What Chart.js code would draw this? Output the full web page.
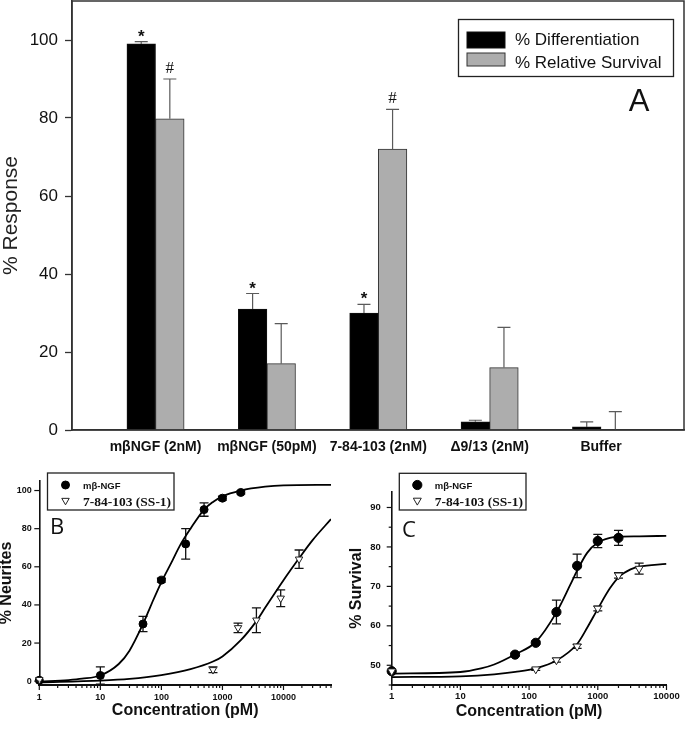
<!DOCTYPE html>
<html>
<head>
<meta charset="utf-8">
<title>NGF response panels</title>
<script src="https://cdn.jsdelivr.net/npm/chart.js@4.4.1/dist/chart.umd.min.js"></script>
<style>
  html, body { margin: 0; padding: 0; background: #fff; }
  #wrap { position: relative; width: 685px; height: 731px; overflow: hidden; }
  canvas { position: absolute; }
  #chartA { left: 0; top: 0; }
  #chartB { left: 0; top: 455px; }
  #chartC { left: 340px; top: 455px; }
</style>
</head>
<body>
<div id="wrap">
  <canvas id="chartA" width="685" height="460"></canvas>
  <canvas id="chartB" width="345" height="276"></canvas>
  <canvas id="chartC" width="345" height="276"></canvas>
</div>
<script>
// ---- panel A: bar chart ----
const categories = ['mβNGF (2nM)', 'mβNGF (50pM)', '7-84-103 (2nM)', 'Δ9/13 (2nM)', 'Buffer'];
const diffValues = [99, 31, 30, 2.1, 0.8];
const diffErrors = [0.6, 4, 2.2, 0.4, 1.3];
const survValues = [79.8, 17, 72, 16, 0];
const survErrors = [10.2, 10.3, 10.2, 10.3, 4.7];
const diffMarks = ['*', '*', '*', '', ''];
const survMarks = ['#', '', '#', '', ''];
const responseTicks = [0, 20, 40, 60, 80, 100];

// ---- panel B: % neurites vs concentration ----
const ngfConcB = [1, 10, 50, 100, 250, 500, 1000, 2000];
const ngfNeurites = [0.5, 3, 30, 53, 72, 90, 96, 99];
const ngfNeuritesErr = [0, 4.5, 4, 1, 8, 3.5, 1, 0.8];
const ssConcB = [1, 700, 1800, 3600, 9000, 18000];
const ssNeurites = [0.8, 6, 28, 32, 43.5, 64];
const ssNeuritesErr = [0, 1.5, 2.5, 6.5, 4.4, 4.8];
// fitted curves
const ngfFitConcB = [1, 3, 5, 10, 20, 30, 50, 70, 100, 150, 200, 300, 500, 700, 1000, 2000, 5000, 10000, 60000];
const ngfFitB = [-0.3, 0.6, 1.3, 3, 9, 16, 30, 41, 52, 63, 71, 80, 90, 94, 97, 100, 102, 102.7, 103];
const ssFitConcB = [1, 10, 30, 100, 300, 700, 1000, 2000, 3600, 5000, 10000, 18000, 30000, 60000];
const ssFitB = [-0.6, 0.3, 1.2, 3.2, 6.3, 10.3, 13, 21.5, 31.5, 38.5, 53, 64.5, 74, 85];
const neuriteTicks = [0, 20, 40, 60, 80, 100];

// ---- panel C: % survival vs concentration ----
const ngfConcC = [1, 62.5, 125, 250, 500, 1000, 2000];
const ngfSurvival = [48.5, 52.7, 55.7, 63.5, 75.2, 81.5, 82.3];
const ngfSurvivalErr = [0, 0.4, 0.4, 3, 3, 1.7, 1.9];
const ssConcC = [1, 125, 250, 500, 1000, 2000, 4000];
const ssSurvival = [48.5, 49, 51.3, 54.8, 64.4, 72.8, 74.5];
const ssSurvivalErr = [0, 0.3, 0.5, 0.5, 0.6, 0.7, 1.4];
const ngfFitConcC = [1, 10, 20, 31, 63, 125, 250, 400, 500, 700, 1000, 1500, 2000, 4000, 10000];
const ngfFitC = [47.9, 48.3, 49.2, 50.2, 52.8, 55.9, 63.4, 70.5, 74, 78.5, 81.1, 82.3, 82.6, 82.7, 82.8];
const ssFitConcC = [1, 10, 31, 63, 125, 250, 500, 700, 1000, 1500, 2000, 3000, 4000, 10000];
const ssFitC = [47.0, 47.2, 47.7, 48.3, 49.2, 51.2, 55.4, 59.5, 64.3, 69.5, 72.3, 74.3, 75.0, 75.7];
const survivalTicks = [50, 60, 70, 80, 90];
const concTicks = [1, 10, 100, 1000, 10000];

Chart.defaults.font.family = "'Liberation Sans', Arial, sans-serif";
Chart.defaults.color = '#111';

const pts = (xs, ys) => xs.map((x, i) => ({x: x, y: ys[i]}));

function drawMarker(ctx, ds, x, y) {
  const r = ds.pointRadius;
  ctx.save();
  ctx.fillStyle = ds.backgroundColor;
  ctx.strokeStyle = ds.borderColor;
  ctx.lineWidth = ds.borderWidth || 1;
  ctx.beginPath();
  if (ds.pointStyle === 'triangle') {
    ctx.moveTo(x, y + r);
    ctx.lineTo(x - r * 0.866, y - r / 2);
    ctx.lineTo(x + r * 0.866, y - r / 2);
    ctx.closePath();
  } else {
    ctx.arc(x, y, r, 0, Math.PI * 2);
  }
  ctx.fill();
  ctx.stroke();
  ctx.restore();
}

// error bars from each dataset's "errors" array
function errorBars(spec) {
  const draw = (chart) => {
    const ctx = chart.ctx, ys = chart.scales.y;
    chart.data.datasets.forEach((ds, di) => {
      if (!ds.errors) return;
      const meta = chart.getDatasetMeta(di);
      ctx.save();
      ctx.strokeStyle = spec.color;
      ctx.lineWidth = spec.width;
      meta.data.forEach((el, i) => {
        const e = ds.errors[i];
        if (!e) return;
        const v = ds.data[i].y;
        const top = ys.getPixelForValue(v + e);
        const bot = ys.getPixelForValue(spec.upOnly ? v : v - e);
        ctx.beginPath();
        ctx.moveTo(el.x, bot); ctx.lineTo(el.x, top);
        ctx.moveTo(el.x - spec.cap, top); ctx.lineTo(el.x + spec.cap, top);
        if (!spec.upOnly) { ctx.moveTo(el.x - spec.cap, bot); ctx.lineTo(el.x + spec.cap, bot); }
        ctx.stroke();
      });
      ctx.restore();
    });
  };
  return spec.after ? {id: 'errorBars', afterDatasetsDraw: draw} : {id: 'errorBars', beforeDatasetsDraw: draw};
}

// significance marks above the error bars (panel A)
const sigMarks = {
  id: 'sigMarks',
  afterDatasetsDraw(chart) {
    const ctx = chart.ctx, ys = chart.scales.y;
    chart.data.datasets.forEach((ds, di) => {
      const meta = chart.getDatasetMeta(di);
      ds.marks.forEach((m, i) => {
        if (!m) return;
        const top = ys.getPixelForValue(ds.data[i].y + ds.errors[i]);
        ctx.save();
        ctx.fillStyle = '#111';
        ctx.textAlign = 'center';
        ctx.textBaseline = 'alphabetic';
        if (m === '*') {
          ctx.font = "bold 17px 'Liberation Sans', sans-serif";
          ctx.fillText(m, meta.data[i].x, top);
        } else {
          ctx.font = "17px 'Liberation Serif', serif";
          ctx.fillText(m, meta.data[i].x, top - 6.5);
        }
        ctx.restore();
      });
    });
  }
};

const frameBox = {
  id: 'frameBox',
  afterDraw(chart) {
    const a = chart.chartArea, ctx = chart.ctx;
    ctx.save();
    ctx.strokeStyle = '#333';
    ctx.lineWidth = 1.5;
    ctx.strokeRect(a.left, a.top, a.right - a.left, a.bottom - a.top);
    ctx.restore();
  }
};

const tickMarks = {
  id: 'tickMarks',
  afterDraw(chart) {
    const a = chart.chartArea, ctx = chart.ctx;
    ctx.save();
    ctx.strokeStyle = '#111';
    ctx.lineWidth = 1.2;
    ['x', 'y'].forEach(id => {
      const s = chart.scales[id];
      s.ticks.forEach(t => {
        const len = t.major ? 5 : 3;
        const p = s.getPixelForValue(t.value);
        ctx.beginPath();
        if (id === 'x') { ctx.moveTo(p, a.bottom); ctx.lineTo(p, a.bottom + len); }
        else { ctx.moveTo(a.left, p); ctx.lineTo(a.left - len, p); }
        ctx.stroke();
      });
    });
    ctx.restore();
  }
};

function legendBox(spec) {
  return {
    id: 'legendBox',
    afterDraw(chart) {
      const ctx = chart.ctx;
      ctx.save();
      ctx.fillStyle = '#fff';
      ctx.strokeStyle = '#222';
      ctx.lineWidth = 1.3;
      ctx.fillRect(spec.box[0], spec.box[1], spec.box[2], spec.box[3]);
      ctx.strokeRect(spec.box[0], spec.box[1], spec.box[2], spec.box[3]);
      spec.rows.forEach(r => {
        const ds = chart.data.datasets[r.ds];
        if (r.swatch) {
          ctx.fillStyle = ds.backgroundColor;
          ctx.fillRect(r.swatch[0], r.swatch[1], r.swatch[2], r.swatch[3]);
          ctx.strokeStyle = ds.borderColor;
          ctx.lineWidth = 1;
          ctx.strokeRect(r.swatch[0], r.swatch[1], r.swatch[2], r.swatch[3]);
        } else {
          drawMarker(ctx, ds, r.mx, r.my);
        }
        ctx.fillStyle = '#111';
        ctx.font = ds.legendFont;
        ctx.textAlign = 'left';
        ctx.textBaseline = 'alphabetic';
        ctx.fillText(ds.label, r.tx, r.ty);
      });
      ctx.restore();
    }
  };
}

function panelLetter(text, x, y, font) {
  return {
    id: 'panelLetter',
    afterDraw(chart) {
      const ctx = chart.ctx;
      ctx.save();
      ctx.fillStyle = '#111';
      ctx.font = font;
      ctx.textAlign = 'center';
      ctx.textBaseline = 'middle';
      ctx.fillText(text, x, y);
      ctx.restore();
    }
  };
}

// ---------- Panel A ----------
new Chart(document.getElementById('chartA'), {
  type: 'bar',
  data: {
    datasets: [
      {
        label: '% Differentiation',
        legendFont: "17px 'Liberation Sans', sans-serif",
        data: pts(categories.map((c, i) => i), diffValues),
        errors: diffErrors,
        marks: diffMarks,
        backgroundColor: '#000',
        borderColor: '#111',
        borderWidth: 1,
        barThickness: 28.6
      },
      {
        label: '% Relative Survival',
        legendFont: "17px 'Liberation Sans', sans-serif",
        data: pts(categories.map((c, i) => i), survValues),
        errors: survErrors,
        marks: survMarks,
        backgroundColor: '#adadad',
        borderColor: '#333',
        borderWidth: 1,
        barThickness: 28.6
      }
    ]
  },
  options: {
    responsive: false,
    animation: false,
    layout: {padding: {top: 1, right: 1, left: 0, bottom: 0}},
    plugins: {legend: {display: false}, tooltip: {enabled: false}},
    scales: {
      x: {
        type: 'linear',
        min: -0.75,
        max: 4.745,
        offset: false,
        grid: {display: false, drawTicks: false},
        border: {color: '#333', width: 1.5},
        afterBuildTicks: s => { s.ticks = categories.map((c, i) => ({value: i})); },
        afterFit: s => { s.height = 30; s.paddingLeft = 0; s.paddingRight = 0; },
        ticks: {
          autoSkip: false,
          maxRotation: 0,
          padding: 9,
          color: '#111',
          font: {size: 14, weight: 'bold'},
          callback: v => categories[v]
        }
      },
      y: {
        min: 0,
        max: 110,
        grid: {drawOnChartArea: false, tickLength: 7, color: '#333', tickWidth: 1.3},
        border: {color: '#333', width: 1.5},
        afterBuildTicks: s => { s.ticks = responseTicks.map(v => ({value: v})); },
        afterFit: s => { s.width = 72; s.paddingTop = 0; s.paddingBottom = 0; },
        ticks: {padding: 7, color: '#111', font: {size: 17}},
        title: {
          display: true,
          text: '% Response',
          color: '#222',
          font: {size: 21, lineHeight: 1},
          padding: {top: 1, bottom: 0}
        }
      }
    }
  },
  plugins: [
    errorBars({color: '#5a5a5a', width: 1.2, cap: 6.5, upOnly: true, after: true}),
    sigMarks,
    frameBox,
    legendBox({
      box: [458.5, 19.5, 215, 57],
      rows: [
        {ds: 0, swatch: [467, 32, 38, 16], tx: 515, ty: 45},
        {ds: 1, swatch: [467, 53, 38, 13], tx: 515, ty: 67.5}
      ]
    }),
    panelLetter('A', 639, 102, "31px 'Liberation Sans', sans-serif")
  ]
});

// ---------- Panels B and C ----------
function curvePanel(id, c) {
  return new Chart(document.getElementById(id), {
    type: 'scatter',
    data: {
      datasets: [
        {
          label: '7-84-103 (SS-1)',
          legendFont: "bold 13.5px 'Liberation Serif', serif",
          data: pts(c.ssX, c.ssY),
          errors: c.ssErr,
          pointStyle: 'triangle',
          rotation: 180,
          pointRadius: c.tri,
          backgroundColor: '#fff',
          borderColor: '#222',
          borderWidth: 1,
          clip: false
        },
        {
          label: 'mβ-NGF',
          legendFont: "bold 9.5px 'Liberation Sans', sans-serif",
          data: pts(c.ngfX, c.ngfY),
          errors: c.ngfErr,
          pointStyle: 'circle',
          pointRadius: c.dot,
          backgroundColor: '#000',
          borderColor: '#000',
          borderWidth: 1,
          clip: false
        },
        {
          data: pts(c.ngfFitX, c.ngfFitY),
          showLine: true,
          pointRadius: 0,
          borderColor: '#000',
          borderWidth: 1.8,
          cubicInterpolationMode: 'monotone'
        },
        {
          data: pts(c.ssFitX, c.ssFitY),
          showLine: true,
          pointRadius: 0,
          borderColor: '#000',
          borderWidth: 1.8,
          cubicInterpolationMode: 'monotone'
        }
      ]
    },
    options: {
      responsive: false,
      animation: false,
      layout: {padding: {top: c.top, right: c.right, left: 0, bottom: 0}},
      plugins: {legend: {display: false}, tooltip: {enabled: false}},
      scales: {
        x: {
          type: 'logarithmic',
          min: 1,
          max: c.xMax,
          grid: {display: false, drawTicks: false},
          border: {color: '#111', width: 2},
          afterBuildTicks: s => {
            const list = [];
            for (let p = 1; p <= c.xMax; p *= 10) {
              for (let d = 1; d <= 9 && d * p <= c.xMax; d++) {
                list.push({value: d * p, major: concTicks.includes(d * p)});
              }
            }
            s.ticks = list;
          },
          afterFit: s => { s.height = 46; },
          ticks: {
            autoSkip: false,
            maxRotation: 0,
            padding: c.xPad,
            color: '#111',
            font: {size: c.tickSize, weight: 'bold'},
            callback: (v, i, ticks) => ticks[i].major ? String(v) : ''
          },
          title: {
            display: true,
            text: 'Concentration (pM)',
            color: '#111',
            font: {size: 16, weight: 'bold', lineHeight: 1},
            padding: {top: 0, bottom: c.xTitlePad}
          }
        },
        y: {
          min: c.yMin,
          max: c.yMax,
          grid: {display: false, drawTicks: false},
          border: {color: '#111', width: 1.6},
          afterBuildTicks: s => {
            const list = [];
            for (let v = c.yTicks[0] - c.minorStep; v <= c.yMax; v += c.minorStep) {
              if (v >= c.yMin) list.push({value: v, major: c.yTicks.includes(v)});
            }
            s.ticks = list;
          },
          afterFit: s => { s.width = c.left; },
          ticks: {
            padding: c.yPad,
            color: '#111',
            font: {size: c.tickSize, weight: 'bold'},
            callback: (v, i, ticks) => ticks[i].major ? String(v) : ''
          },
          title: {
            display: true,
            text: c.yTitle,
            color: '#111',
            font: {size: 16, weight: 'bold', lineHeight: 1},
            padding: {top: c.yTitlePad, bottom: 0}
          }
        }
      }
    },
    plugins: [
      errorBars({color: '#111', width: 1.3, cap: 4.5, upOnly: false, after: false}),
      tickMarks,
      legendBox({
        box: c.legendBox,
        rows: [
          {ds: 1, mx: c.legendBox[0] + 18, my: 30, tx: c.legendBox[0] + 35.5, ty: 33.5},
          {ds: 0, mx: c.legendBox[0] + 18, my: 45.5, tx: c.legendBox[0] + 35.5, ty: 50.5}
        ]
      }),
      panelLetter(c.letter, c.letterX, c.letterY, "22px 'Open Sans', sans-serif")
    ]
  });
}

curvePanel('chartB', {
  ngfX: ngfConcB, ngfY: ngfNeurites, ngfErr: ngfNeuritesErr,
  ssX: ssConcB, ssY: ssNeurites, ssErr: ssNeuritesErr,
  ngfFitX: ngfFitConcB, ngfFitY: ngfFitB, ssFitX: ssFitConcB, ssFitY: ssFitB,
  xMax: 60000, yMin: -2, yMax: 105, yTicks: neuriteTicks, minorStep: 20,
  left: 39.3, top: 26, right: 14,
  tickSize: 9, xPad: 7.3, yPad: 7.6, xTitlePad: 12.5, yTitlePad: -1,
  yTitle: '% Neurites', dot: 4, tri: 4.3,
  legendBox: [47.5, 18, 126.5, 37],
  letter: 'B', letterX: 57, letterY: 73
});

curvePanel('chartC', {
  ngfX: ngfConcC, ngfY: ngfSurvival, ngfErr: ngfSurvivalErr,
  ssX: ssConcC, ssY: ssSurvival, ssErr: ssSurvivalErr,
  ngfFitX: ngfFitConcC, ngfFitY: ngfFitC, ssFitX: ssFitConcC, ssFitY: ssFitC,
  xMax: 10000, yMin: 45, yMax: 94, yTicks: survivalTicks, minorStep: 5,
  left: 51.7, top: 36.7, right: 15.7,
  tickSize: 9.5, xPad: 5.3, yPad: 11, xTitlePad: 11.5, yTitlePad: 8.7,
  yTitle: '% Survival', dot: 4.6, tri: 4.6,
  legendBox: [59.3, 18.3, 126.7, 36.7],
  letter: 'C', letterX: 69, letterY: 76
});
</script>
</body>
</html>
